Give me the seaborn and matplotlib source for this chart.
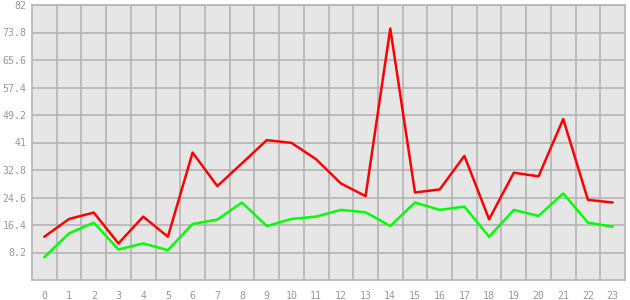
import matplotlib
matplotlib.use("Agg")
import matplotlib.pyplot as plt
import seaborn as sns
import pandas as pd
import numpy as np

hours = list(range(24))
red_values = [12.9, 18.2, 20.1, 10.9, 18.9, 12.9, 38.0, 28.0, 34.8, 41.7, 40.9, 36.0,
              28.8, 25.0, 75.0, 26.1, 27.0, 37.0, 18.1, 32.0, 30.9, 48.0, 23.9, 23.1]
green_values = [6.8, 13.9, 17.1, 9.1, 10.9, 8.9, 16.7, 18.0, 23.1, 16.1, 18.2, 18.9,
                20.9, 20.2, 16.1, 23.1, 20.9, 21.9, 12.9, 20.9, 19.1, 25.8, 17.1, 15.9]
y_ticks = [8.2, 16.4, 24.6, 32.8, 41, 49.2, 57.4, 65.6, 73.8, 82]
y_tick_labels = ["8.2", "16.4", "24.6", "32.8", "41", "49.2", "57.4", "65.6", "73.8", "82"]

df = pd.DataFrame({
    "hour": hours * 2,
    "value": red_values + green_values,
    "series": ["red"] * 24 + ["green"] * 24,
})

sns.set_style("white")
plt.rcParams["font.family"] = ["DejaVu Sans Mono"]

fig = plt.figure(figsize=(6.3, 3.0), dpi=100)
ax = fig.add_axes([32 / 630, 20 / 300, 593 / 630, 275 / 300])
ax.set_facecolor("#e6e6e6")

grid_color = "#b4b4b4"
sns.lineplot(data=df, x="hour", y="value", hue="series",
             palette={"red": "#ff0000", "green": "#00ff00"},
             linewidth=1.8, legend=False, ax=ax, zorder=3)

ax.set_xlim(-0.5, 23.5)
ax.set_ylim(0, 82)
ax.set_xticks(hours)
ax.set_xticklabels([str(h) for h in hours])
ax.set_xticks(np.arange(0.5, 23.5, 1), minor=True)
ax.set_yticks(y_ticks)
ax.set_yticklabels(y_tick_labels)

ax.grid(False)
ax.grid(which="minor", axis="x", color=grid_color, linewidth=1.2, zorder=1)
ax.grid(which="major", axis="y", color=grid_color, linewidth=1.2, zorder=1)
ax.set_axisbelow(True)

ax.tick_params(axis="both", which="major", colors=grid_color, width=1,
               labelcolor="#999999", labelsize=7.2)
ax.tick_params(axis="x", which="major", length=5, pad=3)
ax.tick_params(axis="y", which="major", length=3, pad=1)
ax.tick_params(axis="x", which="minor", length=0)
for s in ax.spines.values():
    s.set_color(grid_color)
    s.set_linewidth(1.2)

ax.set_xlabel("")
ax.set_ylabel("")

fig.savefig("out.png", dpi=100, facecolor="white")
